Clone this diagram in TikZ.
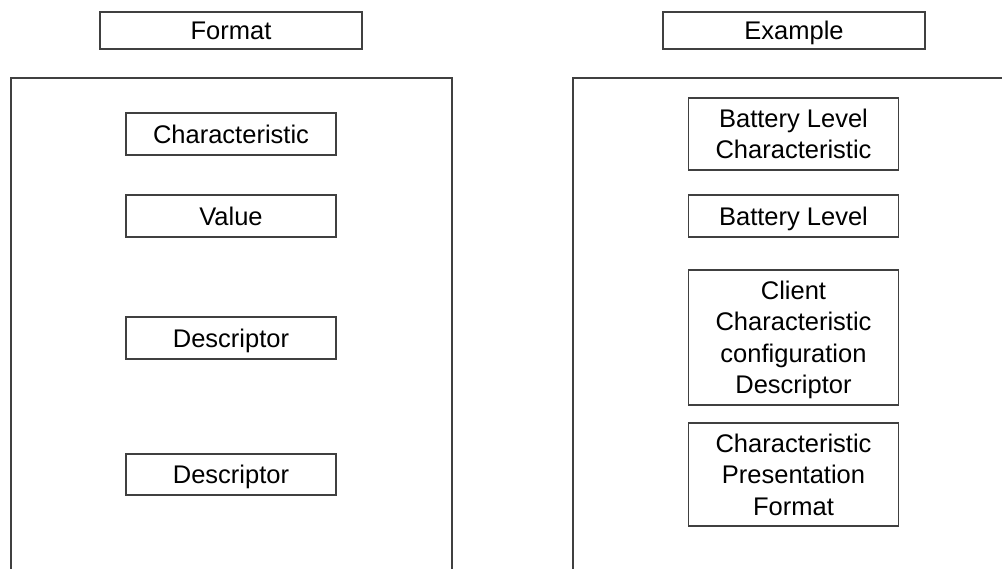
\documentclass[tikz,border=0pt]{standalone}
\usepackage{fontspec}
\setmainfont{Liberation Sans}
% a line of box text with a fixed height and depth, so every label sits alike
\newcommand\boxstrut{\rule[-1.7pt]{0pt}{21.7pt}}
\newcommand\tl[1]{\boxstrut\smash{#1}}
\begin{document}
\begin{tikzpicture}[x=1pt,y=-1pt,
  line/.style={draw=black!75,line width=1.3pt},
  box/.style={line,align=center,inner sep=0pt,font=\fontsize{25.5}{31.5}\selectfont},
  lbl/.style={box,minimum width=262pt,minimum height=37pt},
  item/.style={box,minimum width=210pt}]
\useasboundingbox (0,0) rectangle (1002,569);
\clip (0,0) rectangle (1002,569);
% headings
\node[lbl] (fmt) at (231,30.5) {\tl{Format}};
\node[lbl] (ex) at (794,30.5) {\tl{Example}};
% the two panels, running off the page
\draw[line] (11,580) -- (11,78) -- (452,78) -- (452,580);
\draw[line] (573,580) -- (573,78) -- (1010,78);
% format column
\node[item,minimum height=42pt] (c1) at (231,134) {\tl{Characteristic}};
\node[item,minimum height=42pt] (v1) at (231,216) {\tl{Value}};
\node[item,minimum height=42pt] (d1) at (231,338) {\tl{Descriptor}};
\node[item,minimum height=41pt] (d2) at (231,474.5) {\tl{Descriptor}};
% example column
\node[item,minimum height=72pt] (b1) at (793.5,134) {\tl{Battery Level}\\\tl{Characteristic}};
\node[item,minimum height=42pt] (b2) at (793.5,216) {\tl{Battery Level}};
\node[item,minimum height=135pt] (b3) at (793.5,337.5) {\tl{Client}\\\tl{Characteristic}\\\tl{configuration}\\\tl{Descriptor}};
\node[item,minimum height=103pt] (b4) at (793.5,474.5) {\tl{Characteristic}\\\tl{Presentation}\\\tl{Format}};
\end{tikzpicture}
\end{document}
